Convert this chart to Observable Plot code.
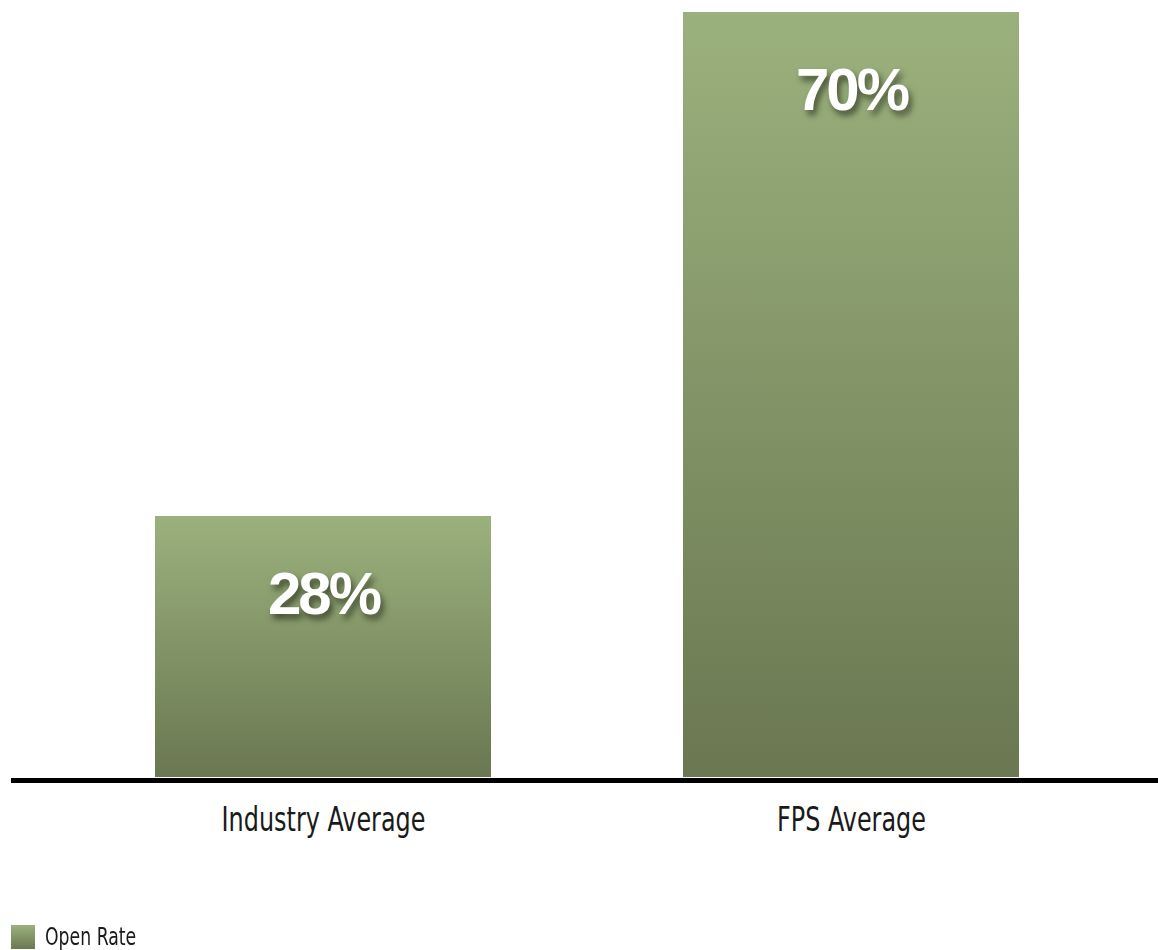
<!DOCTYPE html>
<html>
<head>
<meta charset="utf-8">
<script src="https://cdn.jsdelivr.net/npm/d3@7"></script>
<script src="https://cdn.jsdelivr.net/npm/@observablehq/plot@0.6"></script>
<style>
  html, body { margin: 0; padding: 0; background: #ffffff; }
  #chart { width: 1158px; }
  .legend { display: flex; align-items: center; margin-top: 53px; margin-left: 11px;
    font-family: "DejaVu Sans Condensed", "DejaVu Sans", sans-serif; font-stretch: condensed;
    font-size: 24px; color: #1a1a1a; }
  .swatch { width: 24px; height: 24px; margin-right: 10px; flex: none;
    background: linear-gradient(to bottom, #9bb17d, #6b7852); }
  .legend span { display: inline-block; transform: scaleX(0.8); transform-origin: left center; }
</style>
</head>
<body>
<div id="chart"></div>
<script>
const categories = ["Industry Average", "FPS Average"];
const openRate = [28, 70];
const labels = ["28%", "70%"];
const seriesName = "Open Rate";

const data = categories.map((c, i) => ({category: c, value: openRate[i], label: labels[i]}));

const yMin = 6.25;

const defs = () => {
  const ns = "http://www.w3.org/2000/svg";
  const d = document.createElementNS(ns, "defs");
  const g = document.createElementNS(ns, "linearGradient");
  g.setAttribute("id", "barGrad");
  g.setAttribute("x1", "0"); g.setAttribute("y1", "0");
  g.setAttribute("x2", "0"); g.setAttribute("y2", "1");
  [["0%", "#9bb17d"], ["100%", "#6a7751"]].forEach(([o, c]) => {
    const s = document.createElementNS(ns, "stop");
    s.setAttribute("offset", o); s.setAttribute("stop-color", c);
    g.appendChild(s);
  });
  d.appendChild(g);
  return d;
};

const chart = Plot.plot({
  width: 1158,
  height: 870,
  marginTop: 12,
  marginBottom: 93,
  marginLeft: 16,
  marginRight: 0,
  style: {fontFamily: "'DejaVu Sans Condensed', 'DejaVu Sans', sans-serif", background: "#ffffff"},
  x: {domain: categories, paddingInner: 0.3636, paddingOuter: 0.263, label: null},
  y: {domain: [yMin, 70], axis: null},
  marks: [
    defs,
    Plot.barY(data, {x: "category", y1: yMin, y2: "value", fill: "url(#barGrad)", clip: true}),
    Plot.text(data, {x: "category", y: "value", text: "label", lineAnchor: "bottom", dy: 97,
      fill: "white", fontSize: 60, fontWeight: "bold",
      fontFamily: "'Liberation Sans', Arial, sans-serif", className: "vlabel"}),
    Plot.ruleY([yMin], {stroke: "#000", strokeWidth: 5, dy: 3, insetLeft: -5}),
    Plot.axisX({tickSize: 0, tickPadding: 30, fontSize: 33, label: null, color: "#1a1a1a"})
  ]
});

chart.querySelectorAll(".vlabel text").forEach(t => {
  t.style.filter = "drop-shadow(3px 5px 3px rgba(30,35,20,0.65))";
  t.style.letterSpacing = "-3px";
});

document.getElementById("chart").appendChild(chart);

chart.querySelectorAll("[aria-label='x-axis tick label'] text").forEach(t => {
  const w = t.getComputedTextLength();
  t.setAttribute("textLength", (w * 0.805).toFixed(1));
  t.setAttribute("lengthAdjust", "spacingAndGlyphs");
});

const legend = document.createElement("div");
legend.className = "legend";
legend.innerHTML = `<div class="swatch"></div><span>${seriesName}</span>`;
document.getElementById("chart").appendChild(legend);
</script>
</body>
</html>
